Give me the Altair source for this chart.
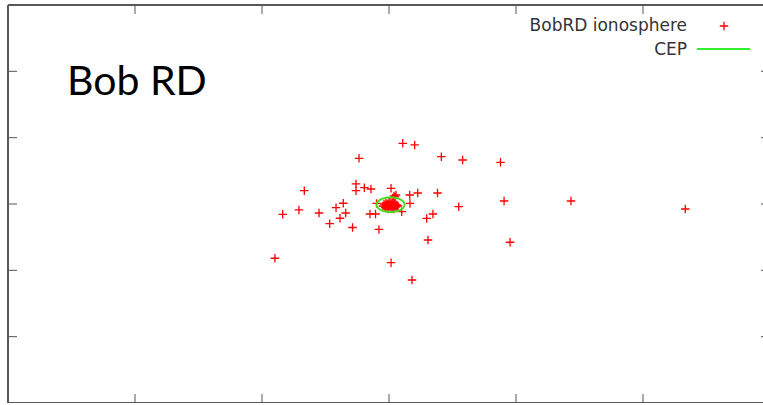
import altair as alt
import numpy as np
import pandas as pd

# ---- data (arbitrary axis units) ----
x_vals = [3.108, 3.202, 2.764, 3.412, 3.580, 3.878, 2.333, 2.740, 2.740, 2.806,
          2.858, 3.016, 3.226, 3.382, 3.163, 3.165, 3.906, 3.549, 2.163, 2.291,
          2.449, 2.583, 2.640, 2.659, 2.614, 2.533, 2.713, 2.921, 2.850, 2.894,
          2.902, 3.297, 3.346, 3.307, 3.953, 2.102, 3.016, 3.181, 4.433, 5.333,
          3.100,
          2.961, 2.969, 2.976, 2.984, 2.992, 3.000, 3.008, 3.016, 3.024, 3.031,
          3.039, 3.047, 3.055, 3.063, 2.976, 2.992, 3.008, 3.024, 3.039, 3.055,
          3.000, 3.016, 3.031, 3.047, 2.984, 3.071, 2.953,
          3.039, 3.047, 3.031, 3.055]
y_vals = [3.915, 3.890, 3.689, 3.713, 3.663, 3.629, 3.201, 3.302, 3.201, 3.246,
          3.226, 3.237, 3.166, 3.166, 3.136, 3.008, 3.045, 2.959, 2.845, 2.910,
          2.864, 2.944, 3.011, 2.864, 2.785, 2.703, 2.646, 2.616, 2.849, 2.849,
          3.008, 2.782, 2.849, 2.457, 2.423, 2.182, 2.115, 1.854, 3.045, 2.925,
          2.884,
          3.000, 2.955, 3.015, 2.970, 2.925, 3.030, 2.985, 2.940, 3.015, 2.970,
          2.925, 3.000, 2.955, 2.985, 2.940, 3.000, 3.030, 2.955, 3.015, 2.985,
          2.955, 3.000, 2.940, 2.970, 3.000, 2.970, 2.970,
          3.121, 3.106, 3.091, 3.136]
cep_center_x = 3.012
cep_center_y = 2.99
cep_radius = 0.11
x_ticks = [1, 2, 3, 4, 5]
y_ticks = [1, 2, 3, 4, 5]
legend_labels = ["BobRD ionosphere", "CEP"]
title_text = ["Bob RD"]

# ---- layout ----
W, H = 755, 398
xs = alt.Scale(domain=[0, W / 127.0], nice=False, zero=False)
ys = alt.Scale(domain=[0, 6], nice=False, zero=False)
AX = "#555555"

pts = pd.DataFrame({"x": x_vals, "y": y_vals})
ang = np.linspace(0, 2 * np.pi, 97)
cep = pd.DataFrame({
    "x": cep_center_x + cep_radius * np.cos(ang),
    "y": cep_center_y + cep_radius * np.sin(ang),
    "o": np.arange(len(ang)),
})
xt = pd.DataFrame({"t": x_ticks})
yt = pd.DataFrame({"t": y_ticks})

PLUS = "M-1,0L1,0M0,-1L0,1"

points = alt.Chart(pts).mark_point(
    shape=PLUS, filled=False, color="#ff0000", strokeWidth=1.3, size=72, opacity=1
).encode(
    x=alt.X("x:Q", scale=xs, axis=None),
    y=alt.Y("y:Q", scale=ys, axis=None),
)

cep_line = alt.Chart(cep).mark_line(color="#44dd22", strokeWidth=2).encode(
    x=alt.X("x:Q", scale=xs, axis=None),
    y=alt.Y("y:Q", scale=ys, axis=None),
    order="o:Q",
)

# frame
frame_left = alt.Chart(xt).mark_rule(color=AX, strokeWidth=1).encode(
    x=alt.value(0), y=alt.value(0), y2=alt.value(H))
frame_top = alt.Chart(xt).mark_rule(color=AX, strokeWidth=1).encode(
    x=alt.value(0), x2=alt.value(W), y=alt.value(0))
frame_bottom = alt.Chart(xt).mark_rule(color=AX, strokeWidth=1).encode(
    x=alt.value(0), x2=alt.value(W), y=alt.value(H))

# inward ticks
tick_bottom = alt.Chart(xt).mark_rule(color=AX, strokeWidth=1).encode(
    x=alt.X("t:Q", scale=xs, axis=None), y=alt.value(H - 9), y2=alt.value(H))
tick_top = alt.Chart(xt).mark_rule(color=AX, strokeWidth=1).encode(
    x=alt.X("t:Q", scale=xs, axis=None), y=alt.value(0), y2=alt.value(9))
tick_left = alt.Chart(yt).mark_rule(color=AX, strokeWidth=1).encode(
    y=alt.Y("t:Q", scale=ys, axis=None), x=alt.value(0), x2=alt.value(9))
tick_right = alt.Chart(yt).mark_rule(color=AX, strokeWidth=1).encode(
    y=alt.Y("t:Q", scale=ys, axis=None), x=alt.value(W - 2), x2=alt.value(W))

# legend
leg1 = alt.Chart(pd.DataFrame({"label": [legend_labels[0]]})).mark_text(
    align="right", baseline="middle", font="DejaVu Sans", fontSize=17, color="#333333"
).encode(x=alt.value(679), y=alt.value(21), text="label:N")
leg2 = alt.Chart(pd.DataFrame({"label": [legend_labels[1]]})).mark_text(
    align="right", baseline="middle", font="DejaVu Sans", fontSize=17, color="#333333"
).encode(x=alt.value(679), y=alt.value(45), text="label:N")
leg_sym = alt.Chart(pd.DataFrame({"label": [legend_labels[0]]})).mark_point(
    shape=PLUS, filled=False, color="#ff0000", strokeWidth=1.3, size=72, opacity=1
).encode(x=alt.value(716), y=alt.value(21))
leg_line = alt.Chart(pd.DataFrame({"label": [legend_labels[1]]})).mark_rule(
    color="#33ee33", strokeWidth=2
).encode(x=alt.value(689), x2=alt.value(742), y=alt.value(44))

title = alt.Chart(pd.DataFrame({"label": title_text})).mark_text(
    align="left", baseline="alphabetic", font="Lato", fontSize=41, color="#000000"
).encode(x=alt.value(59), y=alt.value(90), text="label:N")

chart = alt.layer(
    frame_left, frame_top, frame_bottom, tick_bottom, tick_top, tick_left, tick_right,
    points, cep_line, leg1, leg2, leg_sym, leg_line, title
).properties(
    width=W, height=H,
    padding={"left": 8, "top": 5, "right": 0, "bottom": 0},
    autosize=alt.AutoSizeParams(type="none"),
    background="white",
).configure_view(stroke=None)

chart.save("out.html", embed_options={"renderer": "svg", "actions": False})
